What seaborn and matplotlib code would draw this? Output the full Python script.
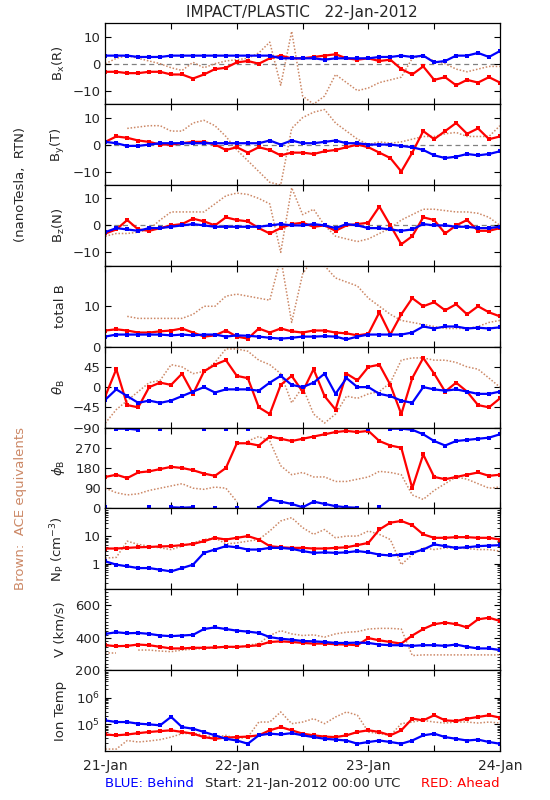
import numpy as np
import pandas as pd
import matplotlib
matplotlib.use("Agg")
import matplotlib.pyplot as plt
import matplotlib.ticker as mticker
import seaborn as sns

# -----------------------------
# Data (every 2 hours from 21-Jan 00:00)
# -----------------------------
hours = list(range(0, 73, 2))
nan = np.nan

bx_behind = [3, 3, 3, 2.5, 2.5, 2.5, 3, 3, 3, 3, 3, 3, 3, 3, 3, 3, 2, 2, 2, 2, 1.5, 2, 2, 2,
             2, 2.5, 2.5, 3, 2.5, 3, 0.5, 1, 3, 3, 4, 2.5, 4.7]
bx_ahead = [-3, -3, -3.5, -3.5, -3, -3, -4, -4, -5.5, -4, -2, -1.5, 0.5, 1, 0, 2, 3, 2, 2, 2.5,
            3, 3.5, 2, 1.5, 2, 1, 1.5, -2, -4, -1, -6, -5, -8, -6, -7, -5, -7]
bx_ace = [0, 2, 3, 2, 1, 0, -1.5, -2.5, 0.5, -1.5, 0, 1, 1.5, 2, 4, 8, -8, 12, -12, -15,
          -12, -4, -7, -10, -9, -7, -6, -5, 2, 3, 1, 0, -2, -3, -2, -1, -1]

by_behind = [1, 0.5, -0.5, -0.5, 0, 0.5, 0.5, 0.5, 0.5, 0.5, 0.5, 0.5, 0.5, 0.5, 0.5, 1.5, 0, 1.5,
             0.5, 0.5, 1, 1.5, 0.5, 0.5, 0, 0, 0, -0.5, -1, -2, -4, -5, -4.5, -3.5, -4, -3.5, -2.5]
by_ahead = [1, 3, 2.5, 1.5, 1, 0, 0, 0.5, 1, 1, 0, -2, -1, -3, -1, -2, -4, -3, -3, -3.5,
            -2.5, -2, -1, 0, -1, -3, -5, -10, -3, 5, 2, 5, 8, 4, 6, 2, 3]
by_ace = [nan, nan, 6, 6.5, 7, 7, 5, 5, 8, 9, 7, 3, -2, -6, -10, -14, -15, 6, 10, 12,
          13, 8, 5, 2, 0, 1, 0.5, 1, 2, 3, 3, 4, 4.5, 3, 3, 3, 7]

bz_behind = [-2.5, -1, -1.5, -2, -1, -1, -0.5, 0, 0.5, 0, -0.5, -0.5, -0.5, -0.5, -0.5, 0, 0.5, 0,
             0, 0.5, 0, -1, 0.5, 0, -1, -1, -1.5, -2, -1.5, 0.5, 0, 0, -0.5, -0.5, -1, -1, -0.5]
bz_ahead = [-3, -1.5, 2, -1.5, -2, -1, 0, 0.5, 2.5, 1.5, 0, 3, 2, 1.5, -1, -3, -1, 0.5, 1, -0.5,
            0, -2, 0, 0.5, 1, 7, 0, -7, -4, 3, 2, -3, 0, 2, -2, -2, -1]
bz_ace = [-4, -3, -3, -2.5, -1.5, 2, 5, 5, 5, 5, 8, 11, 12, 11.5, 10, 8, -10, 14, 4, 6,
          0, -4, -5, -6, -5, -3, -1, 2, 4, 6, 6, 5.5, 5, 5, 4.5, 3, 0]

bt_behind = [2.5, 3, 3, 3, 3, 3, 2.8, 3, 2.8, 3, 3, 2.5, 2.8, 2.7, 2.5, 2.2, 2, 2.2, 2.5, 2.5,
             2.6, 2.5, 1.8, 2.5, 3, 3, 3, 3, 3.5, 5, 4.5, 5, 5, 4.5, 4.7, 4.5, 4.8]
bt_ahead = [4, 4.3, 4, 3.5, 3.5, 3.8, 4, 4.5, 3.5, 2.5, 2.8, 4, 2.5, 2, 4.5, 3.5, 4.5, 3.8, 3.5, 4,
            4, 3.5, 3.3, 2.8, 3.2, 8.5, 3, 8, 12, 10, 11, 9, 10.5, 8, 10, 8.5, 7.5]
bt_ace = [nan, nan, 7.5, 7, 7, 7, 7, 7, 8, 10, 10, 12.5, 13, 12.5, 12, 11.5, 22, 6, 18, 22,
          20, 17, 16, 15, 12, 10, 8, 6.5, 6, 5.5, 5, 4.5, 4.5, 4.5, 5, 6, 6.5]

th_behind = [-28, -5, -20, -35, -30, -35, -30, -20, -10, 0, -12, -5, -5, -5, -8, 10, 25, 5, 0, 10,
             30, -15, 20, 0, 0, -15, -20, -30, -35, 0, -5, -8, -5, -10, -15, -15, -10]
th_ahead = [-20, 40, -40, -45, 0, 10, 5, 30, -15, 35, 50, 60, 25, 20, -45, -60, 5, 25, -10, 40,
            -20, -50, 30, 15, 45, 50, 5, -60, 20, 65, 30, -10, 10, -10, -40, -45, -25]
th_ace = [-80, -50, -30, -10, 10, 15, 50, 45, 30, 35, 55, 85, 85, 80, 60, 50, 30, -35, 0, -60,
          -80, -60, -20, -25, -15, -10, 10, 60, 65, 65, 60, 60, 55, 45, 40, 20, 0]

ph_behind = [5, 355, 355, 350, 5, 355, 5, 3, 5, 355, 3, 355, 3, 355, 3, 40, 30, 20, 5, 30,
             20, 10, 5, 3, 355, 5, 355, 355, 350, 330, 300, 280, 300, 305, 310, 315, 330]
ph_ahead = [140, 150, 135, 160, 165, 175, 185, 180, 170, 155, 145, 180, 290, 290, 280, 320, 310, 300,
            310, 320, 330, 340, 345, 340, 345, 300, 280, 270, 90, 240, 140, 130, 140, 150, 160, 145, 150]
ph_ace = [90, 70, 60, 65, 80, 90, 100, 110, 90, 85, 95, 90, 30, 300, 320, 300, 190, 150, 160, 140,
          140, 120, 120, 130, 140, 165, 160, 150, 60, 40, 80, 110, 140, 130, 110, 90, 95]

np_behind = [1.22, 0.92, 0.8, 0.69, 0.69, 0.6, 0.52, 0.69, 0.92, 2.5, 3.3, 4.4, 4.0, 3.3, 3.3, 3.8,
             3.8, 3.5, 2.9, 2.5, 2.6, 2.5, 2.6, 2.9, 2.6, 2.15, 2.0, 2.15, 2.5, 3.3, 5.1, 4.4, 3.8,
             4.0, 4.4, 4.6, 4.8]
np_ahead = [3.6, 3.6, 3.8, 4.0, 4.1, 4.3, 4.4, 4.8, 5.3, 6.7, 8.9, 7.7, 8.9, 10.3, 7.7, 4.4, 4.0,
            3.8, 3.8, 3.6, 3.6, 3.8, 4.0, 4.8, 5.8, 18, 32, 37, 26, 11.9, 8.9, 8.9, 9.4, 9.4, 8.9,
            8.9, 7.7]
np_ace = [1.6, 1.7, 6.7, 5.1, 4.4, 3.8, 3.3, 4.4, 5.8, 7.7, 8.9, 5.3, 5.8, 6.7, 7.7, 15.8, 37, 49,
          21, 11.9, 18, 8.9, 10.3, 10.3, 15.8, 11.9, 7.7, 0.92, 2.15, 3.8, 3.3, 3.8, 3.8, 3.6, 3.3,
          3.3, 2.9]

v_behind = [424, 434, 428, 430, 424, 414, 410, 414, 418, 454, 464, 454, 444, 438, 430, 404, 394, 388,
            380, 378, 374, 368, 368, 370, 368, 358, 354, 354, 350, 354, 354, 350, 358, 344, 334, 334, 324]
v_ahead = [354, 348, 350, 358, 354, 344, 334, 334, 338, 338, 340, 344, 344, 348, 354, 374, 378, 374,
           368, 364, 364, 360, 358, 354, 398, 384, 374, 364, 414, 454, 484, 494, 484, 464, 514, 524, 504]
v_ace = [304, 304, nan, 324, 324, 318, 314, 324, 330, 334, 338, 344, 338, 354, 364, 414, 444, 424,
         414, 418, 404, 424, 434, 438, 454, 458, 458, 454, 290, 294, 294, 294, 294, 294, 294, 294, 294]

t_behind = [1.4e5, 1.22e5, 1.22e5, 1.06e5, 1.0e5, 9.2e4, 1.9e5, 7.9e4, 6.9e4, 5.2e4, 3.9e4, 2.9e4,
            2.5e4, 1.9e4, 3.9e4, 4.5e4, 4.2e4, 4.7e4, 3.9e4, 3.35e4, 2.9e4, 2.7e4, 2.5e4, 1.9e4,
            2.2e4, 2.5e4, 2.2e4, 1.9e4, 2.5e4, 3.9e4, 4.5e4, 3.35e4, 2.9e4, 2.5e4, 2.7e4, 2.2e4, 1.9e4]
t_ahead = [4.2e4, 3.9e4, 4.2e4, 4.7e4, 5.2e4, 5.6e4, 6.0e4, 5.2e4, 4.5e4, 3.35e4, 2.9e4, 3.2e4,
           3.35e4, 3.5e4, 3.9e4, 6.0e4, 7.9e4, 6.0e4, 4.5e4, 3.9e4, 3.5e4, 3.35e4, 3.9e4, 5.2e4,
           6.0e4, 5.2e4, 3.9e4, 6.0e4, 1.63e5, 1.41e5, 2.18e5, 1.41e5, 1.33e5, 1.63e5, 1.88e5,
           2.18e5, 1.78e5]
t_ace = [1.2e4, 1.2e4, 2.5e4, 2.2e4, 2.4e4, 2.7e4, 3.35e4, 4.5e4, 4.7e4, 3.9e4, 3.35e4, 3.9e4,
         2.9e4, 3.35e4, 1.22e5, 1.22e5, 2.9e5, 1.06e5, 1.22e5, 1.63e5, 1.06e5, 1.88e5, 2.9e5,
         2.18e5, 5.2e4, 4.5e4, 3.9e4, 1.06e5, 1.22e5, 1.41e5, 1.22e5, 1.12e5, 1.22e5, 1.22e5,
         1.12e5, 1.22e5, 1.12e5]

day_labels = ["21-Jan", "22-Jan", "23-Jan", "24-Jan"]

# -----------------------------
# Style
# -----------------------------
sns.set_style("ticks")
plt.rcParams["font.family"] = ["DejaVu Sans"]
plt.rcParams["font.size"] = 9
plt.rcParams["xtick.direction"] = "in"
plt.rcParams["ytick.direction"] = "in"

BLUE = "#0000ff"
RED = "#ff0000"
BROWN = "#cc8866"

panels = [
    (bx_behind, bx_ahead, bx_ace, r"B$_{\rm x}$(R)", "bfield"),
    (by_behind, by_ahead, by_ace, r"B$_{\rm y}$(T)", "bfield"),
    (bz_behind, bz_ahead, bz_ace, r"B$_{\rm z}$(N)", "bfield"),
    (bt_behind, bt_ahead, bt_ace, "total B", "btot"),
    (th_behind, th_ahead, th_ace, r"$\theta_{\rm B}$", "theta"),
    (ph_behind, ph_ahead, ph_ace, r"$\phi_{\rm B}$", "phi"),
    (np_behind, np_ahead, np_ace, r"N$_{\rm P}$ (cm$^{-3}$)", "dens"),
    (v_behind, v_ahead, v_ace, "V (km/s)", "speed"),
    (t_behind, t_ahead, t_ace, "Ion Temp", "temp"),
]


def segments(values, wrap=False):
    # split a series into runs so that gaps (and 0/360 wraps) are not joined
    df = pd.DataFrame({"hour": hours, "value": values})
    brk = df["value"].isna()
    if wrap:
        brk = brk | (df["value"].diff().abs() > 180)
    df["seg"] = brk.cumsum()
    return df.dropna()


fig, axes = plt.subplots(9, 1, figsize=(5.5, 8), dpi=100, sharex=True)
fig.subplots_adjust(left=0.1915, right=0.909, top=0.9709, bottom=0.0613, hspace=0)

for ax, (behind, ahead, ace, label, kind) in zip(axes, panels):
    wrap = kind == "phi"
    sns.lineplot(data=segments(ace, wrap), x="hour", y="value", units="seg", estimator=None,
                 sort=False, color=BROWN, lw=1.1, ls=(0, (1, 1.2)), ax=ax)
    sns.lineplot(data=segments(ahead, wrap), x="hour", y="value", units="seg", estimator=None,
                 sort=False, color=RED, lw=1.6, marker="s", markersize=2.5, mew=0, ax=ax)
    sns.lineplot(data=segments(behind, wrap), x="hour", y="value", units="seg", estimator=None,
                 sort=False, color=BLUE, lw=1.6, marker="s", markersize=2.5, mew=0, ax=ax)

    if kind == "bfield":
        ax.axhline(0, color="gray", ls="--", lw=0.9, dashes=(4, 3), zorder=0)
        ax.set_ylim(-15, 15)
        ax.set_yticks([-10, 0, 10])
    elif kind == "btot":
        ax.set_ylim(0, 20)
        ax.set_yticks([0, 10, 20], ["0", "10", ""])
    elif kind == "theta":
        ax.set_ylim(-90, 90)
        ax.set_yticks([-90, -45, 0, 45, 90], ["\u221290", "\u221245", "0", "45", ""])
    elif kind == "phi":
        ax.set_ylim(0, 360)
        ax.set_yticks([0, 90, 180, 270, 360], ["0", "90", "180", "270", ""])
    elif kind == "dens":
        ax.set_yscale("log")
        ax.set_ylim(0.115, 107)
        ax.set_yticks([1, 10], ["1", "10"])
        ax.yaxis.set_minor_locator(mticker.LogLocator(subs=np.arange(2, 10)))
        ax.yaxis.set_minor_formatter(mticker.NullFormatter())
    elif kind == "speed":
        ax.set_ylim(200, 700)
        ax.set_yticks([200, 400, 600])
        ax.yaxis.set_minor_locator(mticker.MultipleLocator(20))
    elif kind == "temp":
        ax.set_yscale("log")
        ax.set_ylim(1.02e4, 1.05e7)
        ax.set_yticks([1e5, 1e6], [r"10$^5$", r"10$^6$"])
        ax.yaxis.set_minor_locator(mticker.LogLocator(subs=np.arange(2, 10)))
        ax.yaxis.set_minor_formatter(mticker.NullFormatter())

    ax.set_ylabel(label, fontsize=9.5)
    ax.set_xlabel("")
    ax.tick_params(which="both", top=True, right=True, direction="in", color="black")
    ax.tick_params(which="major", length=4.5, width=0.8, labelsize=9.5)
    ax.tick_params(which="minor", length=2.5, width=0.6)
    for s in ax.spines.values():
        s.set_linewidth(0.9)
        s.set_color("black")

axes[-1].set_xlim(0, 72)
axes[-1].set_xticks(range(0, 73, 12),
                    [day_labels[0], "", day_labels[1], "", day_labels[2], "", day_labels[3]])
axes[-1].tick_params(axis="x", labelsize=10, pad=6)
fig.align_ylabels(axes)

fig.text(0.549, 0.985, "IMPACT/PLASTIC   22-Jan-2012", ha="center", va="center", fontsize=11)
fig.text(0.037, 0.77, "(nanoTesla,  RTN)", rotation=90, ha="center", va="center", fontsize=9.5)
fig.text(0.037, 0.365, "Brown:  ACE equivalents", rotation=90, ha="center", va="center",
         fontsize=9.5, color=BROWN)
fig.text(0.191, 0.021, "BLUE: Behind", ha="left", va="center", fontsize=9.5, color=BLUE)
fig.text(0.551, 0.021, "Start: 21-Jan-2012 00:00 UTC", ha="center", va="center", fontsize=9.5)
fig.text(0.909, 0.021, "RED: Ahead", ha="right", va="center", fontsize=9.5, color=RED)

plt.savefig("out.png", dpi=100)
